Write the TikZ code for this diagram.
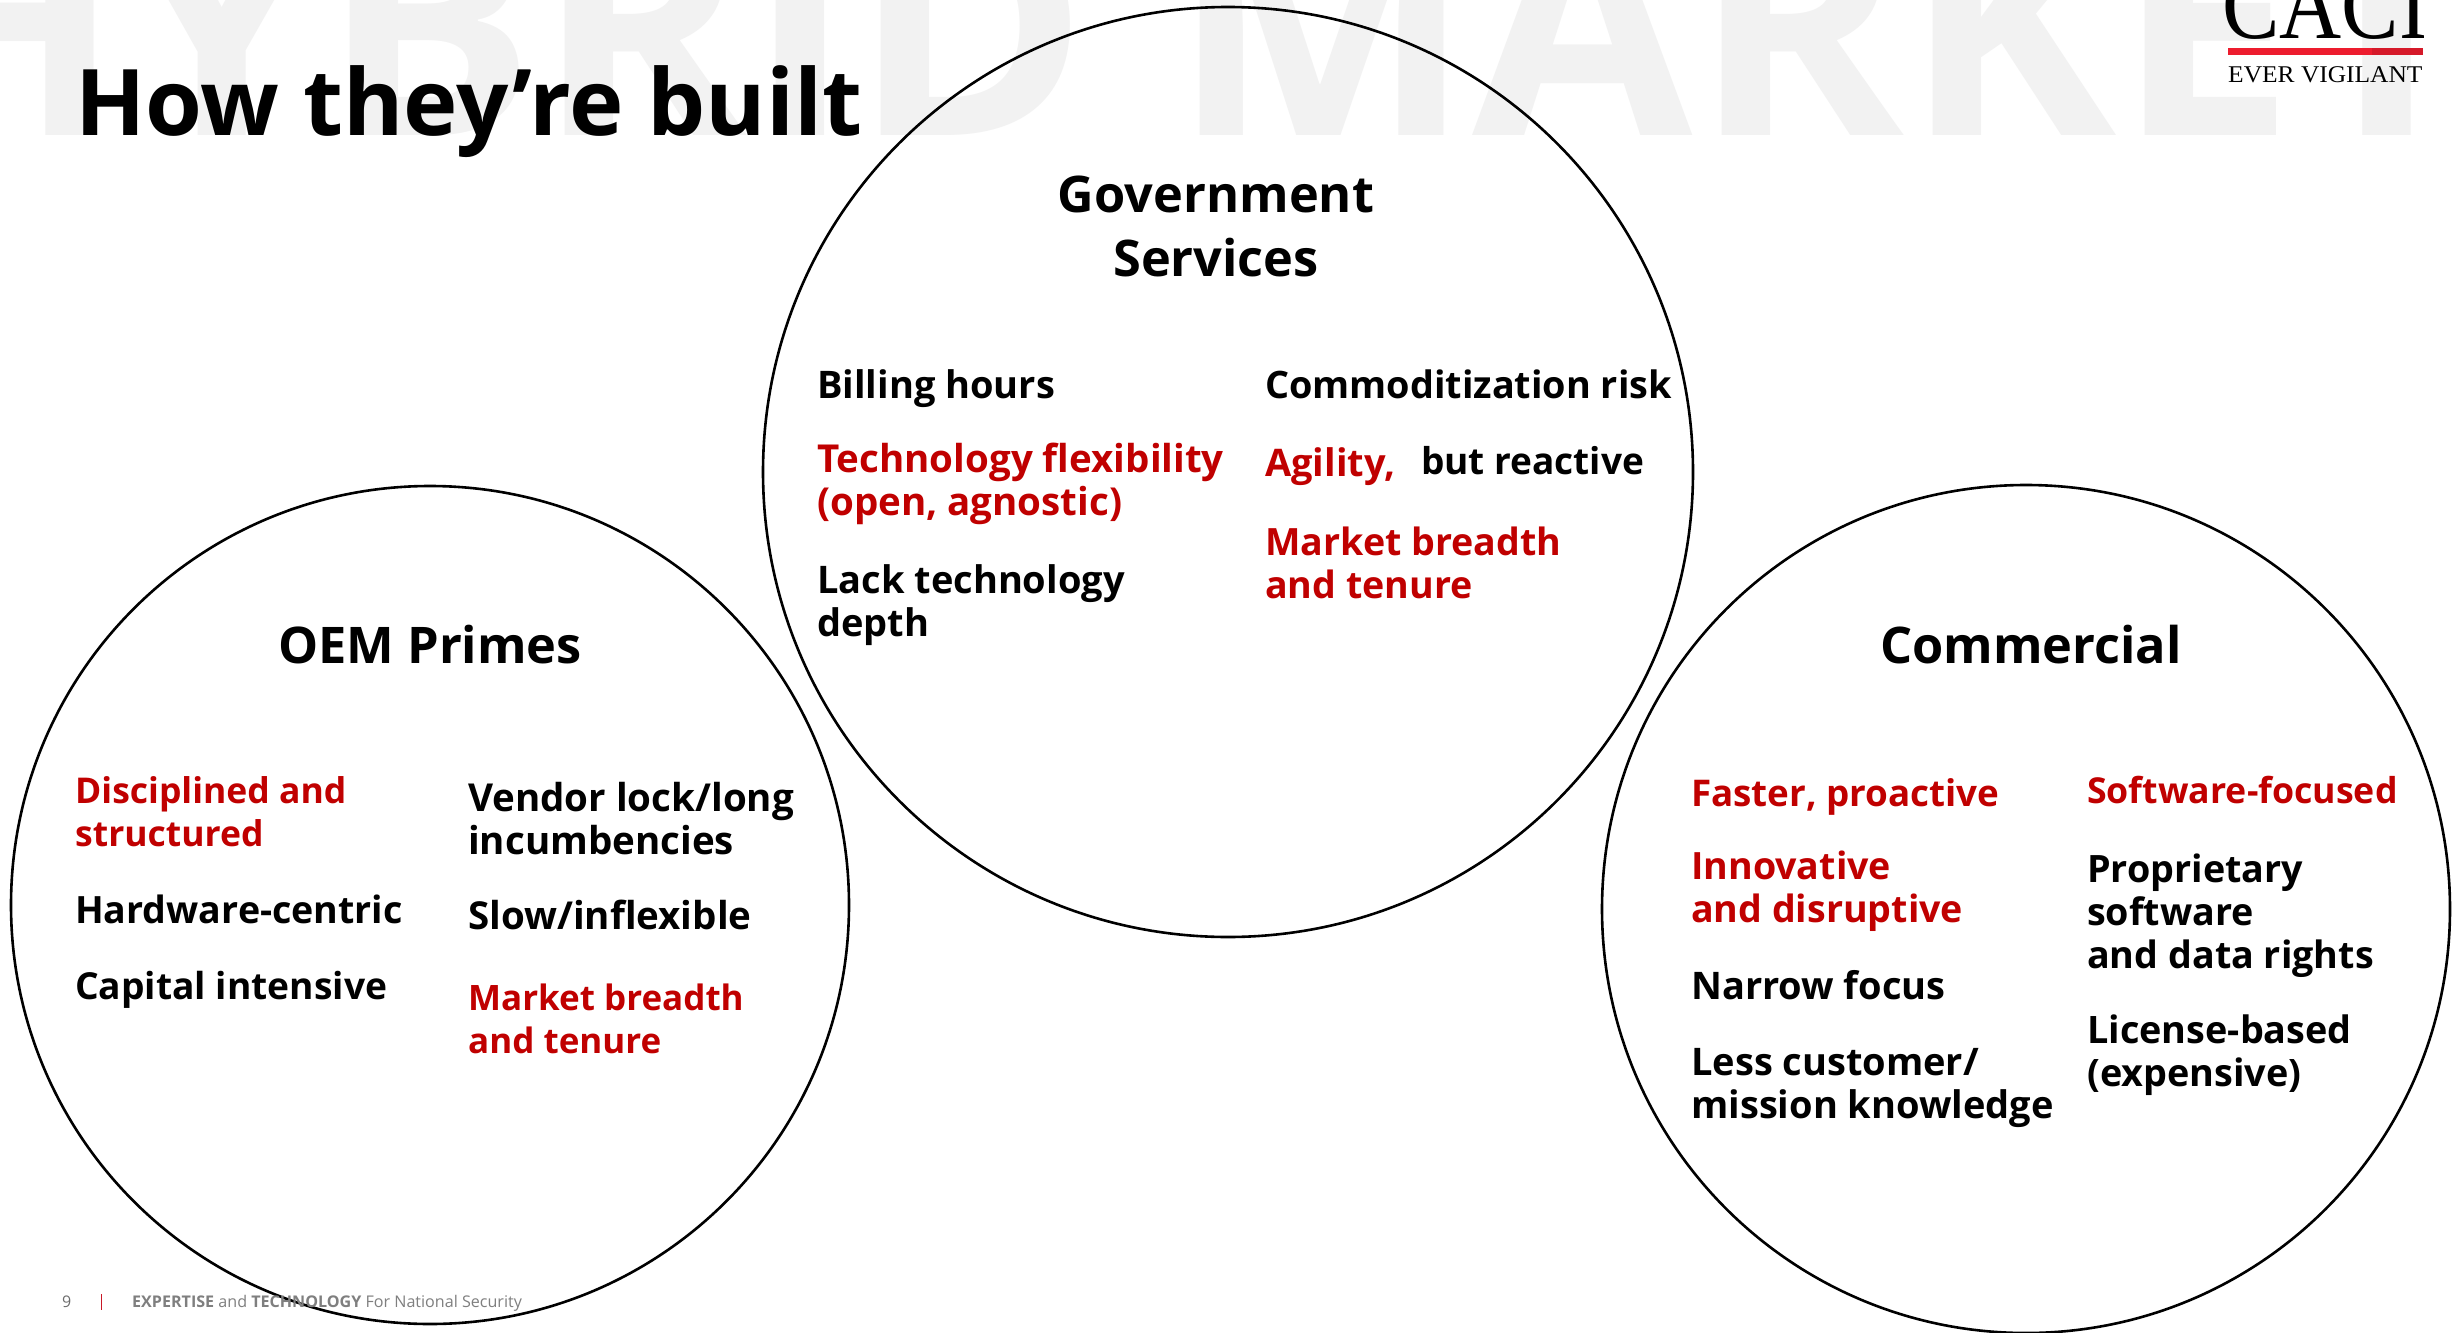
\documentclass[tikz,border=0pt]{standalone}
\usepackage{fontspec}
\setmainfont{Open Sans}
\newfontfamily\logofont{Liberation Serif}
\definecolor{caired}{HTML}{C00000}
\definecolor{wmgray}{HTML}{F2F2F2}
\definecolor{footgray}{HTML}{7F7F7F}
\definecolor{logored}{HTML}{ED1C2E}
\tikzset{
  x=1pt,y=-1pt,
  ring/.style={draw=black,line width=2.6pt,circle,inner sep=0pt,fill=none},
  head/.style={font=\bfseries\fontsize{50.5}{64}\selectfont,align=center,anchor=base,text=black,inner sep=0pt},
  item/.style={font=\bfseries\fontsize{#1}{43}\selectfont,align=left,anchor=base west,text=black,inner sep=0pt},
  item/.default=38,
  reditem/.style={item=#1,text=caired},
  reditem/.default=38,
}
\begin{document}
\begin{tikzpicture}
\useasboundingbox (0,0) rectangle (2453,1333);
\fill[white] (0,0) rectangle (2453,1333);
\begin{scope}
\clip (0,0) rectangle (2423,1333);
\node[anchor=base west,inner sep=0pt,xscale=1.047,transform shape,text=wmgray,font=\bfseries\fontsize{305}{305}\selectfont] (wm) at (-122,135) {HYBRID MARKET};
\end{scope}
\node[anchor=base west,inner sep=0pt,font=\bfseries\fontsize{92}{100}\selectfont] (title) at (75,135) {How they’re built};

\begin{scope}
\clip (2200,0) rectangle (2423,100);
\node[anchor=base west,inner sep=0pt,font=\logofont\fontsize{100}{100}\selectfont,xscale=.86,transform shape] (caci) at (2222,38) {CACI};
\end{scope}
\fill[logored] (2228,48) rectangle (2423,55);
\fill[logored!90!black] (2372,48) rectangle (2423,55);
\node[anchor=base west,inner sep=0pt,font=\logofont\fontsize{24}{24}\selectfont,xscale=1.06,transform shape] (ever) at (2228,82) {EVER VIGILANT};

\node[ring,minimum size=838pt] (oem) at (430,905) {};
\node[ring,minimum size=930pt] (gov) at (1228,472) {};
\node[ring,minimum size=848pt] (com) at (2026,909) {};

\node[head] (govh) at (1216,276) {Government\\Services};
\node[head] (oemh) at (430,663) {OEM Primes};
\node[head] (comh) at (2031,663) {Commercial};

\node[item] (g1) at (817,398) {Billing hours};
\node[reditem=38.5] (g2) at (817,515) {Technology flexibility\\(open, agnostic)};
\node[item] (g3) at (817,636) {Lack technology\\depth};
\node[item=37.8] (g4) at (1265,398) {Commoditization risk};
\node[reditem] (g5) at (1265,476) {Agility,};
\node[item=37] (g6) at (1421,474) {but reactive};
\node[reditem=37.6] (g7) at (1265,598) {Market breadth\\and tenure};

\node[reditem=35.5] (o1) at (75,846) {Disciplined and\\structured};
\node[item=37.6] (o2) at (75,923) {Hardware-centric};
\node[item=37.2] (o3) at (75,999) {Capital intensive};
\node[item=38.5] (o4) at (468,854) {Vendor lock/long\\incumbencies};
\node[item=38.5] (o5) at (468,929) {Slow/inflexible};
\node[reditem=35] (o6) at (468,1053) {Market breadth\\and tenure};

\node[reditem=36.8] (c1) at (1691,806) {Faster, proactive};
\node[reditem=37.6] (c2) at (1691,922) {Innovative\\and disruptive};
\node[item] (c3) at (1691,999) {Narrow focus};
\node[item] (c4) at (1691,1118) {Less customer/\\mission knowledge};
\node[reditem=35.7] (c5) at (2087,803) {Software-focused};
\node[item=37.7] (c6) at (2087,968) {Proprietary\\software\\and data rights};
\node[item=37.8] (c7) at (2087,1086) {License-based\\(expensive)};

\node[anchor=base west,inner sep=0pt,text=footgray!85!black,font=\fontsize{16}{18}\selectfont] (pg) at (62,1307) {9};
\draw[logored!85!black,line width=1.5pt] (101.5,1294) -- (101.5,1310);
\node[anchor=base west,inner sep=0pt,text=footgray,font=\fontsize{16.1}{18}\selectfont] (foot) at (132,1307) {\textbf{EXPERTISE} and \textbf{TECHNOLOGY} For National Security};
\end{tikzpicture}
\end{document}
